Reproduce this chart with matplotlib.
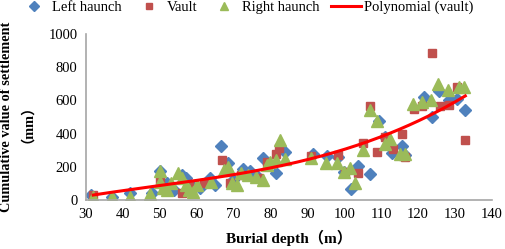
import numpy as np
import matplotlib
matplotlib.use('Agg')
import matplotlib.pyplot as plt

plt.rcParams['font.family'] = ['Liberation Serif', 'Noto Sans CJK SC']

# Left haunch (depth m, settlement mm)
left_x = [31.5, 37, 42, 48, 50, 52, 54, 56, 57, 59, 61, 63.5, 65, 66.5, 68.6, 70, 72.5, 74.5, 76,
          78, 81.5, 84, 91.5, 95.3, 98.3, 100, 101.8, 103.7, 107, 109.3, 111, 113, 115.6, 116.5,
          121.5, 123.8, 125.8, 128.3, 130.5, 132.6]
left_y = [30, 15, 40, 40, 177, 100, 60, 150, 130, 80, 75, 130, 90, 326, 220, 120, 187, 175, 150,
          250, 160, 290, 280, 265, 260, 170, 66, 207, 157, 479, 380, 285, 328, 270,
          620, 503, 654, 604, 610, 543]

# Vault
vault_x = [32, 50, 56, 58, 62, 67, 69, 72, 77, 79, 81.4, 82.4, 91, 98.4, 100.3, 103.7, 105.2, 107,
           109, 111, 113.2, 115.6, 116.5, 118.8, 121, 123.8, 126, 128.3, 130.5, 132.8]
vault_y = [30, 120, 40, 90, 100, 241, 100, 150, 130, 230, 276, 312, 265, 270, 170, 160, 342, 567,
           291, 382, 308, 398, 260, 547, 565, 885, 567, 573, 680, 362]

# Right haunch
right_x = [32, 37, 42, 47.5, 50, 50, 51, 52, 53, 55, 56, 57, 58, 59, 60, 64, 67.5, 68.5, 69.5, 71,
           72, 74, 76, 78, 79, 80, 81.5, 82.5, 84, 91, 95, 98, 100, 101.5, 103, 105, 107, 109,
           111, 112.5, 115, 116.5, 118.5, 121, 123.5, 125.5, 128, 131, 132.5]
right_y = [15, 15, 15, 35, 175, 110, 70, 60, 100, 160, 130, 90, 60, 50, 90, 110, 180, 200, 100, 90,
           160, 150, 140, 120, 210, 230, 240, 360, 245, 255, 220, 220, 170, 190, 105, 300, 540, 475,
           340, 370, 275, 280, 580, 590, 600, 700, 660, 680, 680]

blue = '#4F81BD'
red = '#C0504D'
green = '#9BBB59'

fig = plt.figure(figsize=(5.05, 2.49), dpi=100)
ax = fig.add_axes([0.170, 0.197, 0.804, 0.666])

ax.plot(left_x, left_y, 'D', color=blue, markersize=6.2, label='Left haunch')
ax.plot(vault_x, vault_y, 's', color=red, markersize=6.2, label='Vault')
ax.plot(right_x, right_y, '^', color=green, markersize=8, label='Right haunch')

# polynomial trendline of the vault series
coef = np.polyfit(vault_x, vault_y, 3)
xs = np.linspace(min(vault_x), max(vault_x), 200)
ax.plot(xs, np.polyval(coef, xs), '-', color='#FF0000', linewidth=2.2, label='Polynomial (vault)')

ax.set_xlim(30, 140)
ax.set_ylim(0, 1000)
ax.set_xticks(range(30, 141, 10))
ax.set_yticks(range(0, 1001, 200))
for s in ['top', 'right']:
    ax.spines[s].set_visible(False)
for s in ['left', 'bottom']:
    ax.spines[s].set_color('#A6A6A6')
    ax.spines[s].set_linewidth(1.2)
ax.tick_params(length=0, labelsize=10.5, pad=6)

ax.set_xlabel('Burial depth（m）', fontsize=11, fontweight='bold', labelpad=6)
fig.text(0.026, 0.53, 'Cumulative value of settlement\n（mm）', rotation=90,
         ha='center', va='center', fontsize=10.3, fontweight='bold', linespacing=1.05)

fig.legend(loc='upper center', bbox_to_anchor=(0.488, 1.05), ncol=4, frameon=False,
           fontsize=10.5, handlelength=2.05, columnspacing=0.82, handletextpad=0.2,
           markerscale=0.75)

fig.savefig('out.png', dpi=100)
